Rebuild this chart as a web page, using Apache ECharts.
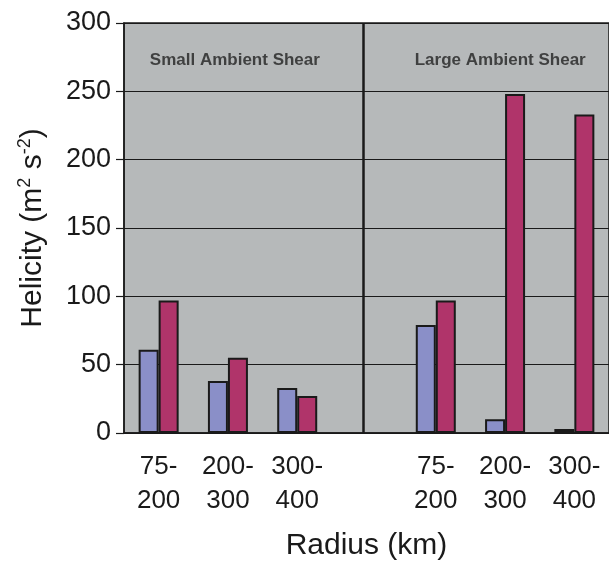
<!DOCTYPE html>
<html>
<head>
<meta charset="utf-8">
<script src="https://cdn.jsdelivr.net/npm/echarts@6/dist/echarts.min.js"></script>
<style>html,body{margin:0;padding:0;background:#fff}#c{width:609px;height:566px}</style>
</head>
<body>
<div id="c"></div>
<script>
var categories = ['75-\n200', '200-\n300', '300-\n400', '', '75-\n200', '200-\n300', '300-\n400'];
var seriesA = [61, 38, 33, null, 79, 10, 3];
var seriesB = [97, 55, 27, null, 97, 248, 233];
var yTicks = [0, 50, 100, 150, 200, 250, 300];
var dividerAt = 3.46;
var panelLabels = [
  { text: 'Small Ambient Shear', x: 1.6, y: 273 },
  { text: 'Large Ambient Shear', x: 5.43, y: 273 }
];

var FONT = 'Liberation Sans';
var chart = echarts.init(document.getElementById('c'), null, { renderer: 'canvas' });
chart.setOption({
  animation: false,
  backgroundColor: '#ffffff',
  grid: {
    left: 124, top: 23, width: 490, height: 410,
    show: true, backgroundColor: '#b6b9ba', borderColor: '#1a1a1a', borderWidth: 1.5
  },
  xAxis: [{
    type: 'category',
    data: categories,
    axisLine: { lineStyle: { color: '#1a1a1a', width: 1.5 } },
    axisTick: { length: 8, lineStyle: { color: '#1a1a1a', width: 1.2 } },
    axisLabel: { color: '#1a1a1a', fontFamily: FONT, fontSize: 26, lineHeight: 34, margin: 17, interval: 0 },
    name: 'Radius (km)',
    nameLocation: 'middle',
    nameGap: 98,
    nameTextStyle: { color: '#1a1a1a', fontFamily: FONT, fontSize: 30 }
  }, {
    type: 'value', min: 0, max: 7, show: false
  }],
  yAxis: {
    type: 'value',
    min: yTicks[0], max: yTicks[yTicks.length - 1], interval: 50,
    axisLine: { show: true, lineStyle: { color: '#1a1a1a', width: 1.5 } },
    axisTick: { show: true, length: 8, lineStyle: { color: '#1a1a1a', width: 1.2 } },
    splitLine: { show: true, lineStyle: { color: '#1a1a1a', width: 1 } },
    axisLabel: { color: '#1a1a1a', fontFamily: FONT, fontSize: 27, margin: 13 },
    name: '{t|Helicity (m}{s|2}{t| s}{s|-2}{t|)}',
    nameLocation: 'middle',
    nameRotate: 90,
    nameGap: 74,
    nameTextStyle: {
      color: '#1a1a1a', fontFamily: FONT, fontSize: 30,
      rich: {
        t: { fontFamily: FONT, fontSize: 30, lineHeight: 34, color: '#1a1a1a' },
        s: { fontFamily: FONT, fontSize: 18, lineHeight: 34, verticalAlign: 'top', color: '#1a1a1a' }
      }
    }
  },
  series: [{
    type: 'bar',
    data: seriesA,
    barWidth: 20,
    barGap: '0%',
    itemStyle: { color: '#8a8fc8', borderColor: '#1a1a1a', borderWidth: 2 }
  }, {
    type: 'bar',
    data: seriesB,
    barWidth: 20,
    itemStyle: { color: '#b0346a', borderColor: '#1a1a1a', borderWidth: 2 }
  }, {
    type: 'scatter',
    xAxisIndex: 1,
    symbolSize: 0,
    data: panelLabels.map(function (p) { return { value: [p.x, p.y], name: p.text }; }),
    label: {
      show: true, position: 'inside', formatter: '{b}',
      fontFamily: FONT, fontWeight: 'bold', fontSize: 17, color: '#222'
    },
    markLine: {
      symbol: 'none', silent: true, label: { show: false },
      lineStyle: { color: '#1a1a1a', width: 2.5, type: 'solid' },
      data: [{ xAxis: dividerAt }]
    }
  }]
});
</script>
</body>
</html>
